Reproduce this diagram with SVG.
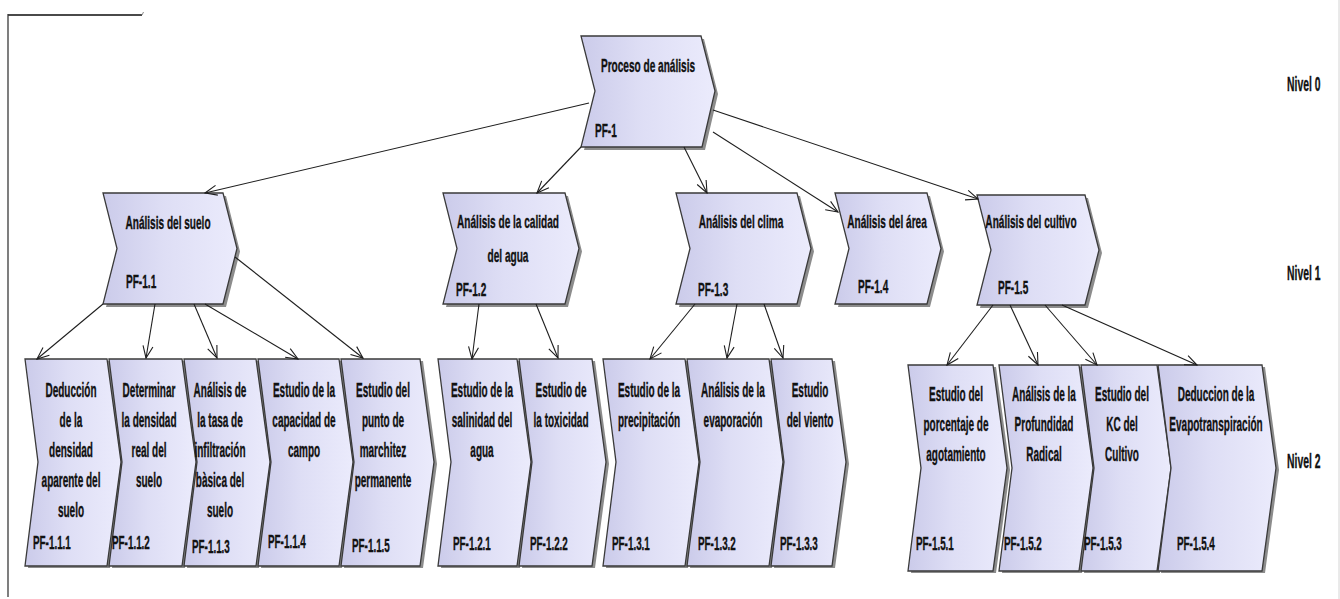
<svg xmlns="http://www.w3.org/2000/svg" width="1340" height="599" viewBox="0 0 1340 599">
  <style>
    .shape { fill: url(#procFill); stroke: #3a3a3a; stroke-width: 1.3; stroke-linejoin: miter; }
    .shadow { fill: #8c8c8c; }
    .lbl { font-family: "Liberation Sans", Arial, sans-serif; font-weight: bold; fill: #111; stroke: #111; stroke-width: 0.35; }
    .t1 { font-size: 18px; text-anchor: middle; }
    .t2 { font-size: 20px; text-anchor: middle; }
    .pf1 { font-size: 18px; }
    .pf2 { font-size: 19px; }
    .lvl { font-size: 20px; }
    .conn { fill: none; stroke: #1e1e1e; stroke-width: 1.1; marker-end: url(#openArrow); }
  </style>
  <defs>
    <linearGradient id="procFill" x1="0" y1="0" x2="1" y2="0">
      <stop offset="0" stop-color="#cbcbea"/>
      <stop offset="0.45" stop-color="#dedef5"/>
      <stop offset="1" stop-color="#ebebfc"/>
    </linearGradient>
    <marker id="openArrow" viewBox="0 0 14 12" markerWidth="14" markerHeight="12" refX="13" refY="6" orient="auto" markerUnits="userSpaceOnUse">
      <path d="M1,1 L13,6 L1,11" fill="none" stroke="#1e1e1e" stroke-width="1.1"/>
    </marker>
  </defs>

  <rect x="0" y="0" width="1340" height="599" fill="#ffffff"/>

  <!-- frame marks -->
  <g id="frame">
    <line x1="8" y1="15" x2="142" y2="15" stroke="#4a4a4a" stroke-width="2"/>
    <line x1="142" y1="15" x2="143.5" y2="12" stroke="#888" stroke-width="1"/>
    <line x1="8" y1="14" x2="8" y2="597" stroke="#3a3a3a" stroke-width="1.3"/>
    <line x1="1339" y1="0" x2="1339" y2="599" stroke="#d4d4d4" stroke-width="1"/>
  </g>

  <!-- level 0 -->
  <g id="pf-1">
    <polygon class="shadow" points="584,39 704,39 718,94 705,150 584,150 598,94"/>
    <polygon class="shape" points="581,36 701,36 715,91 702,147 581,147 595,91"/>
    <text class="lbl t1" transform="matrix(0.56 0 0 1 648 72)">Proceso de análisis</text>
    <text class="lbl pf1" transform="matrix(0.56 0 0 1 595 137)">PF-1</text>
  </g>

  <!-- level 1 -->
  <g id="pf-1-1">
    <polygon class="shadow" points="106,196 226,196 240,251.5 226,307 106,307 120,251.5"/>
    <polygon class="shape" points="103,193 223,193 237,248.5 223,304 103,304 117,248.5"/>
    <text class="lbl t1" transform="matrix(0.56 0 0 1 168 229)">Análisis del suelo</text>
    <text class="lbl pf1" transform="matrix(0.56 0 0 1 126 288)">PF-1.1</text>
  </g>
  <g id="pf-1-2">
    <polygon class="shadow" points="446,196 568,196 582,251.5 568,307 446,307 460,251.5"/>
    <polygon class="shape" points="443,193 565,193 579,248.5 565,304 443,304 457,248.5"/>
    <text class="lbl t1" transform="matrix(0.56 0 0 1 508 0)"><tspan x="0" y="228">Análisis de la calidad</tspan><tspan x="0" y="262">del agua</tspan></text>
    <text class="lbl pf1" transform="matrix(0.56 0 0 1 456 296)">PF-1.2</text>
  </g>
  <g id="pf-1-3">
    <polygon class="shadow" points="679,196 800,196 814,251.5 800,307 679,307 693,251.5"/>
    <polygon class="shape" points="676,193 797,193 811,248.5 797,304 676,304 690,248.5"/>
    <text class="lbl t1" transform="matrix(0.56 0 0 1 741 228)">Análisis del clima</text>
    <text class="lbl pf1" transform="matrix(0.56 0 0 1 698 296)">PF-1.3</text>
  </g>
  <g id="pf-1-4">
    <polygon class="shadow" points="838,196 930,196 944,251.5 930,307 838,307 852,251.5"/>
    <polygon class="shape" points="835,193 927,193 941,248.5 927,304 835,304 849,248.5"/>
    <text class="lbl t1" transform="matrix(0.56 0 0 1 887 228)">Análisis del área</text>
    <text class="lbl pf1" transform="matrix(0.56 0 0 1 858 293)">PF-1.4</text>
  </g>
  <g id="pf-1-5">
    <polygon class="shadow" points="980,198 1088,198 1102,253 1088,308 980,308 994,253"/>
    <polygon class="shape" points="977,195 1085,195 1099,250 1085,305 977,305 991,250"/>
    <text class="lbl t1" transform="matrix(0.56 0 0 1 1031 228)">Análisis del cultivo</text>
    <text class="lbl pf1" transform="matrix(0.56 0 0 1 998 294)">PF-1.5</text>
  </g>

  <!-- level 2 : análisis del suelo -->
  <g id="pf-1-1-1">
    <polygon class="shadow" points="28,361 110,361 124,464 110,568 28,568 41,464"/>
    <polygon class="shape" points="25,359 107,359 121,462 107,566 25,566 38,462"/>
    <text class="lbl t2" transform="matrix(0.5 0 0 1 71 0)"><tspan x="0" y="397">Deducción</tspan><tspan x="0" y="427">de la</tspan><tspan x="0" y="457">densidad</tspan><tspan x="0" y="487">aparente del</tspan><tspan x="0" y="517">suelo</tspan></text>
    <text class="lbl pf2" transform="matrix(0.52 0 0 1 33 549)">PF-1.1.1</text>
  </g>
  <g id="pf-1-1-2">
    <polygon class="shadow" points="112,361 185,361 199,464 185,568 112,568 125,464"/>
    <polygon class="shape" points="109,359 182,359 196,462 182,566 109,566 122,462"/>
    <text class="lbl t2" transform="matrix(0.5 0 0 1 149 0)"><tspan x="0" y="397">Determinar</tspan><tspan x="0" y="427">la densidad</tspan><tspan x="0" y="457">real del</tspan><tspan x="0" y="487">suelo</tspan></text>
    <text class="lbl pf2" transform="matrix(0.52 0 0 1 112 549)">PF-1.1.2</text>
  </g>
  <g id="pf-1-1-3">
    <polygon class="shadow" points="187,361 259,361 273,464 259,568 187,568 200,464"/>
    <polygon class="shape" points="184,359 256,359 270,462 256,566 184,566 197,462"/>
    <text class="lbl t2" transform="matrix(0.5 0 0 1 220 0)"><tspan x="0" y="397">Análisis de</tspan><tspan x="0" y="427">la tasa de</tspan><tspan x="0" y="457">infiltración</tspan><tspan x="0" y="487">bàsica del</tspan><tspan x="0" y="517">suelo</tspan></text>
    <text class="lbl pf2" transform="matrix(0.52 0 0 1 192 553)">PF-1.1.3</text>
  </g>
  <g id="pf-1-1-4">
    <polygon class="shadow" points="261,361 342,361 356,464 342,568 261,568 274,464"/>
    <polygon class="shape" points="258,359 339,359 353,462 339,566 258,566 271,462"/>
    <text class="lbl t2" transform="matrix(0.5 0 0 1 304 0)"><tspan x="0" y="397">Estudio de la</tspan><tspan x="0" y="427">capacidad de</tspan><tspan x="0" y="457">campo</tspan></text>
    <text class="lbl pf2" transform="matrix(0.52 0 0 1 268 548)">PF-1.1.4</text>
  </g>
  <g id="pf-1-1-5">
    <polygon class="shadow" points="344,361 423,361 437,464 423,568 344,568 357,464"/>
    <polygon class="shape" points="341,359 420,359 434,462 420,566 341,566 354,462"/>
    <text class="lbl t2" transform="matrix(0.5 0 0 1 383 0)"><tspan x="0" y="397">Estudio del</tspan><tspan x="0" y="427">punto de</tspan><tspan x="0" y="457">marchitez</tspan><tspan x="0" y="487">permanente</tspan></text>
    <text class="lbl pf2" transform="matrix(0.52 0 0 1 352 552)">PF-1.1.5</text>
  </g>

  <!-- level 2 : calidad del agua -->
  <g id="pf-1-2-1">
    <polygon class="shadow" points="441,361 520,361 534,464 520,568 441,568 454,464"/>
    <polygon class="shape" points="438,359 517,359 531,462 517,566 438,566 451,462"/>
    <text class="lbl t2" transform="matrix(0.5 0 0 1 482 0)"><tspan x="0" y="397">Estudio de la</tspan><tspan x="0" y="427">salinidad del</tspan><tspan x="0" y="457">agua</tspan></text>
    <text class="lbl pf2" transform="matrix(0.52 0 0 1 453 550)">PF-1.2.1</text>
  </g>
  <g id="pf-1-2-2">
    <polygon class="shadow" points="522,361 595,361 609,464 595,568 522,568 535,464"/>
    <polygon class="shape" points="519,359 592,359 606,462 592,566 519,566 532,462"/>
    <text class="lbl t2" transform="matrix(0.5 0 0 1 561 0)"><tspan x="0" y="397">Estudio de</tspan><tspan x="0" y="427">la toxicidad</tspan></text>
    <text class="lbl pf2" transform="matrix(0.52 0 0 1 530 550)">PF-1.2.2</text>
  </g>

  <!-- level 2 : clima -->
  <g id="pf-1-3-1">
    <polygon class="shadow" points="606,361 688,361 702,464 688,568 606,568 619,464"/>
    <polygon class="shape" points="603,359 685,359 699,462 685,566 603,566 616,462"/>
    <text class="lbl t2" transform="matrix(0.5 0 0 1 649 0)"><tspan x="0" y="397">Estudio de la</tspan><tspan x="0" y="427">precipitación</tspan></text>
    <text class="lbl pf2" transform="matrix(0.52 0 0 1 612 550)">PF-1.3.1</text>
  </g>
  <g id="pf-1-3-2">
    <polygon class="shadow" points="690,361 772,361 786,464 772,568 690,568 703,464"/>
    <polygon class="shape" points="687,359 769,359 783,462 769,566 687,566 700,462"/>
    <text class="lbl t2" transform="matrix(0.5 0 0 1 733 0)"><tspan x="0" y="397">Análisis de la</tspan><tspan x="0" y="427">evaporación</tspan></text>
    <text class="lbl pf2" transform="matrix(0.52 0 0 1 698 550)">PF-1.3.2</text>
  </g>
  <g id="pf-1-3-3">
    <polygon class="shadow" points="774,361 835,361 849,464 835,568 774,568 787,464"/>
    <polygon class="shape" points="771,359 832,359 846,462 832,566 771,566 784,462"/>
    <text class="lbl t2" transform="matrix(0.5 0 0 1 810 0)"><tspan x="0" y="397">Estudio</tspan><tspan x="0" y="427">del viento</tspan></text>
    <text class="lbl pf2" transform="matrix(0.52 0 0 1 780 550)">PF-1.3.3</text>
  </g>

  <!-- level 2 : cultivo -->
  <g id="pf-1-5-1">
    <polygon class="shadow" points="911,367 996,367 1010,470 996,573 911,573 924,470"/>
    <polygon class="shape" points="908,365 993,365 1007,468 993,571 908,571 921,468"/>
    <text class="lbl t2" transform="matrix(0.5 0 0 1 956 0)"><tspan x="0" y="401">Estudio del</tspan><tspan x="0" y="431">porcentaje de</tspan><tspan x="0" y="461">agotamiento</tspan></text>
    <text class="lbl pf2" transform="matrix(0.52 0 0 1 916 550)">PF-1.5.1</text>
  </g>
  <g id="pf-1-5-2">
    <polygon class="shadow" points="1002,367 1082,367 1096,470 1082,573 1002,573 1015,470"/>
    <polygon class="shape" points="999,365 1079,365 1093,468 1079,571 999,571 1012,468"/>
    <text class="lbl t2" transform="matrix(0.5 0 0 1 1044 0)"><tspan x="0" y="401">Análisis de la</tspan><tspan x="0" y="431">Profundidad</tspan><tspan x="0" y="461">Radical</tspan></text>
    <text class="lbl pf2" transform="matrix(0.52 0 0 1 1004 550)">PF-1.5.2</text>
  </g>
  <g id="pf-1-5-3">
    <polygon class="shadow" points="1084,367 1160,367 1174,470 1160,573 1084,573 1097,470"/>
    <polygon class="shape" points="1081,365 1157,365 1171,468 1157,571 1081,571 1094,468"/>
    <text class="lbl t2" transform="matrix(0.5 0 0 1 1122 0)"><tspan x="0" y="401">Estudio del</tspan><tspan x="0" y="431">KC del</tspan><tspan x="0" y="461">Cultivo</tspan></text>
    <text class="lbl pf2" transform="matrix(0.52 0 0 1 1084 550)">PF-1.5.3</text>
  </g>
  <g id="pf-1-5-4">
    <polygon class="shadow" points="1161,367 1265,367 1279,470 1265,573 1161,573 1174,470"/>
    <polygon class="shape" points="1158,365 1262,365 1276,468 1262,571 1158,571 1171,468"/>
    <text class="lbl t2" transform="matrix(0.5 0 0 1 1216 0)"><tspan x="0" y="401">Deduccion de la</tspan><tspan x="0" y="431">Evapotranspiración</tspan></text>
    <text class="lbl pf2" transform="matrix(0.52 0 0 1 1177 550)">PF-1.5.4</text>
  </g>

  <!-- level captions -->
  <g id="levels">
    <text class="lbl lvl" transform="matrix(0.52 0 0 1 1287 91)">Nivel 0</text>
    <text class="lbl lvl" transform="matrix(0.52 0 0 1 1287 280)">Nivel 1</text>
    <text class="lbl lvl" transform="matrix(0.52 0 0 1 1287 468)">Nivel 2</text>
  </g>

  <!-- decomposition links -->
  <g id="connectors">
    <path class="conn" d="M589,103 L205,193"/>
    <path class="conn" d="M581,147 L537,193"/>
    <path class="conn" d="M684,147 L707,193"/>
    <path class="conn" d="M713,132 L838,212"/>
    <path class="conn" d="M713,110 L978,199"/>

    <path class="conn" d="M103,304 L37,359"/>
    <path class="conn" d="M155,304 L146,358"/>
    <path class="conn" d="M194,304 L217,358"/>
    <path class="conn" d="M205,304 L298,359"/>
    <path class="conn" d="M235,257 L363,358"/>

    <path class="conn" d="M479,304 L472,359"/>
    <path class="conn" d="M536,304 L558,358"/>

    <path class="conn" d="M695,304 L650,359"/>
    <path class="conn" d="M737,304 L727,358"/>
    <path class="conn" d="M764,304 L783,358"/>

    <path class="conn" d="M993,305 L947,365"/>
    <path class="conn" d="M1010,305 L1038,365"/>
    <path class="conn" d="M1045,305 L1097,365"/>
    <path class="conn" d="M1062,305 L1197,365"/>
  </g>
</svg>
